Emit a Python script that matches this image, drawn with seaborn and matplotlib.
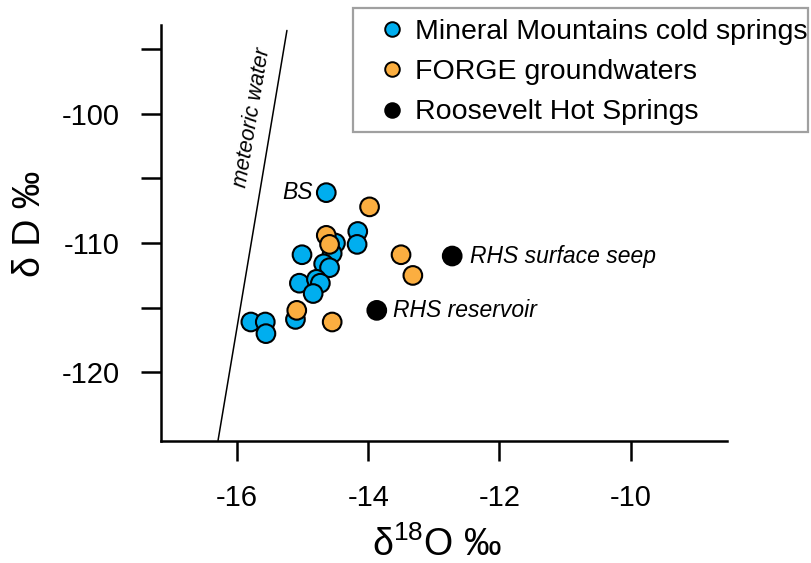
import matplotlib
matplotlib.use("Agg")
import matplotlib.pyplot as plt
from matplotlib.lines import Line2D
from matplotlib.patches import Rectangle
import seaborn as sns
import pandas as pd

# ---- data ----
mm_x = [-14.64, -14.16, -14.17, -14.50, -14.55, -15.01, -14.68, -14.59,
        -15.05, -14.79, -14.73, -14.84, -15.11, -15.79, -15.57, -15.56]
mm_y = [-106.1, -109.1, -110.1, -110.0, -110.8, -110.9, -111.6, -111.9,
        -113.1, -112.8, -113.1, -113.9, -115.9, -116.1, -116.1, -117.0]
forge_x = [-13.98, -14.64, -14.59, -13.50, -13.32, -15.09, -14.55]
forge_y = [-107.2, -109.4, -110.1, -110.9, -112.5, -115.2, -116.1]
rhs_x = [-12.72, -13.87]
rhs_y = [-111.0, -115.2]
rhs_labels = ["RHS surface seep", "RHS reservoir"]
mwl_x = [-16.29, -15.24]
mwl_y = [-125.25, -93.56]
groups = ["Mineral Mountains cold springs", "FORGE groundwaters", "Roosevelt Hot Springs"]
colors = ["#00AEEF", "#FBAE40", "#000000"]
x_ticks = [-16, -14, -12, -10]
y_ticks = [-95, -100, -105, -110, -115, -120]
y_ticklabels = ["", "-100", "", "-110", "", "-120"]

df = pd.DataFrame({
    "d18O": mm_x + forge_x + rhs_x,
    "dD": mm_y + forge_y + rhs_y,
    "group": [groups[0]] * len(mm_x) + [groups[1]] * len(forge_x) + [groups[2]] * len(rhs_x),
})

sns.set_theme(style="ticks")
plt.rcParams["font.family"] = ["Liberation Sans", "DejaVu Sans"]
plt.rcParams["mathtext.default"] = "regular"
plt.rcParams["axes.unicode_minus"] = False
plt.rcParams["text.color"] = "black"
plt.rcParams["axes.labelcolor"] = "black"
plt.rcParams["xtick.color"] = "black"
plt.rcParams["ytick.color"] = "black"

fig = plt.figure(figsize=(8.12, 5.63), dpi=100)
ax = fig.add_axes([161 / 812, 1 - 441 / 563, (727 - 161) / 812, (441 - 24.5) / 563])

ax.plot(mwl_x, mwl_y, color="black", lw=1.1, zorder=1)

sns.scatterplot(data=df, x="d18O", y="dD", hue="group", hue_order=groups,
                palette=dict(zip(groups, colors)), s=180, edgecolor="black",
                linewidth=1.5, legend=False, ax=ax, zorder=3)

ax.set_xlim(-17.16, -8.53)
ax.set_ylim(-125.3, -93.1)
ax.set_xticks(x_ticks)
ax.set_xticklabels([str(v) for v in x_ticks])
ax.set_yticks(y_ticks)
ax.set_yticklabels(y_ticklabels)
ax.tick_params(axis="both", direction="out", length=14.5, width=1.8,
               labelsize=21, color="black", labelcolor="black")
ax.tick_params(axis="y", pad=15)
ax.tick_params(axis="x", pad=16.5)
for side in ["top", "right"]:
    ax.spines[side].set_visible(False)
for side in ["left", "bottom"]:
    ax.spines[side].set_linewidth(1.8)
    ax.spines[side].set_color("black")

ax.set_xlabel(r"δ$^{18}$O ‰", fontsize=27, color="black")
ax.xaxis.set_label_coords(0.4876, -0.25)
ax.xaxis.label.set(va="center", ha="center")
ax.set_ylabel("δ D ‰", fontsize=27, color="black")
ax.yaxis.set_label_coords(-0.231, 0.521)
ax.yaxis.label.set(va="center", ha="center")

# annotations
ax.annotate("BS", (mm_x[0], mm_y[0]), xytext=(-9.5, 0), textcoords="offset points",
            ha="right", va="center", fontsize=16.5, style="italic", color="black")
ax.annotate(rhs_labels[0], (rhs_x[0], rhs_y[0]), xytext=(13, 0), textcoords="offset points",
            ha="left", va="center", fontsize=16.5, style="italic", color="black")
ax.annotate(rhs_labels[1], (rhs_x[1], rhs_y[1]), xytext=(12, 0), textcoords="offset points",
            ha="left", va="center", fontsize=16.5, style="italic", color="black")
ax.text(-15.77, -100.3, "meteoric water", rotation=80.5, rotation_mode="anchor",
        ha="center", va="center", fontsize=15.5, style="italic", color="black")

# legend
handles = [Line2D([], [], marker="o", ls="none", markersize=10.5, markerfacecolor=c,
                  markeredgecolor="black", markeredgewidth=1.4) for c in colors]
fig.legend(handles, groups, loc="upper left", bbox_to_anchor=(378 / 812, 1 - 19 / 563),
           frameon=False, fontsize=20.5, borderpad=0, borderaxespad=0,
           handlelength=1.0, handletextpad=0.3, labelspacing=0.5, labelcolor="black")
fig.patches.append(Rectangle((353 / 812, 1 - 132 / 563), (808 - 353) / 812, (132 - 8) / 563,
                             transform=fig.transFigure, fill=False, edgecolor="#A0A0A0",
                             linewidth=1.6, figure=fig))

fig.savefig("out.png", dpi=100)
